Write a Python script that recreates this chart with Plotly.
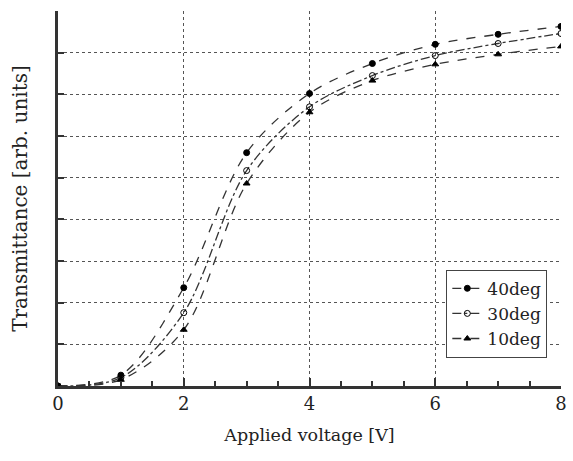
import plotly.graph_objects as go

voltage = [0, 1, 2, 3, 4, 5, 6, 7, 8]
t40 = [0.0, 0.26, 2.36, 5.60, 7.02, 7.74, 8.20, 8.44, 8.63]
t30 = [0.0, 0.20, 1.76, 5.17, 6.70, 7.45, 7.93, 8.22, 8.46]
t10 = [0.0, 0.15, 1.35, 4.86, 6.57, 7.33, 7.72, 7.96, 8.15]
x_ticks = [0, 2, 4, 6, 8]

font = "DejaVu Serif"

fig = go.Figure()
series = [
    ("40deg", t40, "dash", "circle", "black"),
    ("30deg", t30, "dashdot", "circle-open", "black"),
    ("10deg", t10, "dash", "triangle-up", "black"),
]
for name, ys, dash, sym, col in series:
    fig.add_trace(go.Scatter(
        x=voltage, y=ys, name=name, mode="lines+markers",
        line=dict(color="#333", width=1.3, dash=dash, shape="spline", smoothing=0.9),
        marker=dict(symbol=sym, size=6, color=col, line=dict(color=col, width=1)),
    ))

fig.update_layout(
    width=573, height=461,
    margin=dict(l=58, r=6, t=11, b=75),
    paper_bgcolor="white", plot_bgcolor="white",
    font=dict(family=font, size=17, color="#222"),
    showlegend=True,
    legend=dict(x=0.772, y=0.31, xanchor="left", yanchor="top",
                bgcolor="white", bordercolor="#444", borderwidth=1,
                font=dict(family=font, size=17), itemwidth=30,
                tracegroupgap=0),
    xaxis=dict(
        range=[0, 8], tickvals=x_ticks, ticks="inside", ticklen=8, tickwidth=1.5,
        tickcolor="#333",
        minor=dict(dtick=0.5, ticks="inside", ticklen=5, tickwidth=1.5, tickcolor="#333", showgrid=False),
        showgrid=True, gridcolor="#555", griddash="dot", gridwidth=1,
        showline=True, linecolor="#333", linewidth=2.5, zeroline=False,
        title=dict(text="Applied voltage [V]", font=dict(family=font, size=17.5), standoff=16),
        tickfont=dict(family=font, size=18),
    ),
    yaxis=dict(
        range=[0, 9], dtick=1, ticks="inside", ticklen=6, tickwidth=1.5, tickcolor="#333",
        showticklabels=False,
        showgrid=True, gridcolor="#555", griddash="dot", gridwidth=1,
        showline=True, linecolor="#333", linewidth=2.5, zeroline=False,
        title=dict(text="Transmittance [arb. units]", font=dict(family=font, size=20), standoff=23),
    ),
)

fig.write_html("out.html")
